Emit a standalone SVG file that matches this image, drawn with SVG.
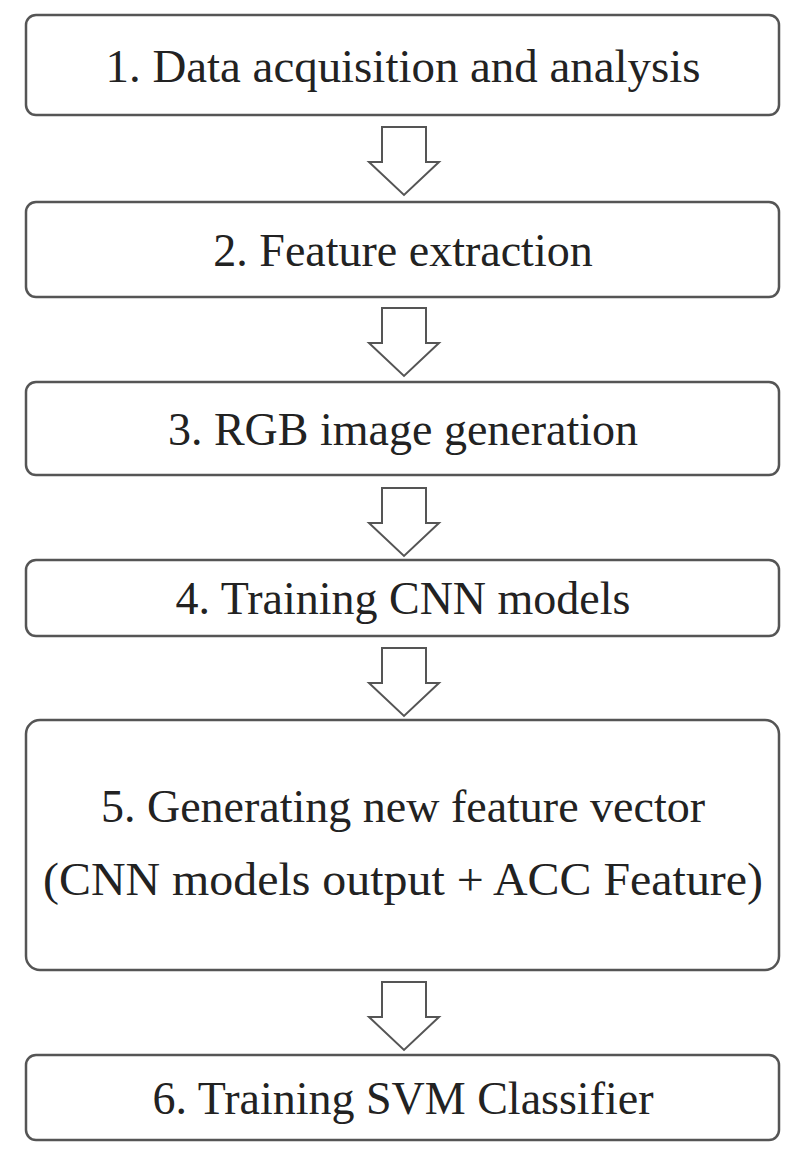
<svg xmlns="http://www.w3.org/2000/svg" width="807" height="1171" viewBox="0 0 807 1171">
<style>
.b{fill:#fff;stroke:#555;stroke-width:2.5}
.a{fill:#fff;stroke:#555;stroke-width:2;stroke-linejoin:miter}
text{font-family:"Liberation Serif",serif;font-size:46px;fill:#222;text-anchor:middle}
</style>
<defs><path id="ar" class="a" d="M-22,0 H22 V35 H35 L0,68 L-35,35 H-22 Z"/></defs>
<rect width="807" height="1171" fill="#fff"/>
<g id="n1"><rect class="b" x="26" y="15" width="753" height="100" rx="10"/><text x="403" y="82" textLength="595" lengthAdjust="spacingAndGlyphs">1. Data acquisition and analysis</text></g>
<g id="n2"><rect class="b" x="26" y="202" width="753" height="95" rx="10"/><text x="403" y="266">2. Feature extraction</text></g>
<g id="n3"><rect class="b" x="26" y="382" width="753" height="93" rx="10"/><text x="403" y="445">3. RGB image generation</text></g>
<g id="n4"><rect class="b" x="26" y="560" width="753" height="76" rx="10"/><text x="403" y="614">4. Training CNN models</text></g>
<g id="n5"><rect class="b" x="26" y="720" width="753" height="250" rx="14"/><text x="403" y="822">5. Generating new feature vector</text><text x="403" y="895" textLength="720" lengthAdjust="spacingAndGlyphs">(CNN models output + ACC Feature)</text></g>
<g id="n6"><rect class="b" x="26" y="1055" width="753" height="85" rx="10"/><text x="403" y="1114">6. Training SVM Classifier</text></g>
<g id="connectors">
<use href="#ar" x="404" y="127"/>
<use href="#ar" x="404" y="308"/>
<use href="#ar" x="404" y="488"/>
<use href="#ar" x="404" y="648"/>
<use href="#ar" x="404" y="982"/>
</g>
</svg>
